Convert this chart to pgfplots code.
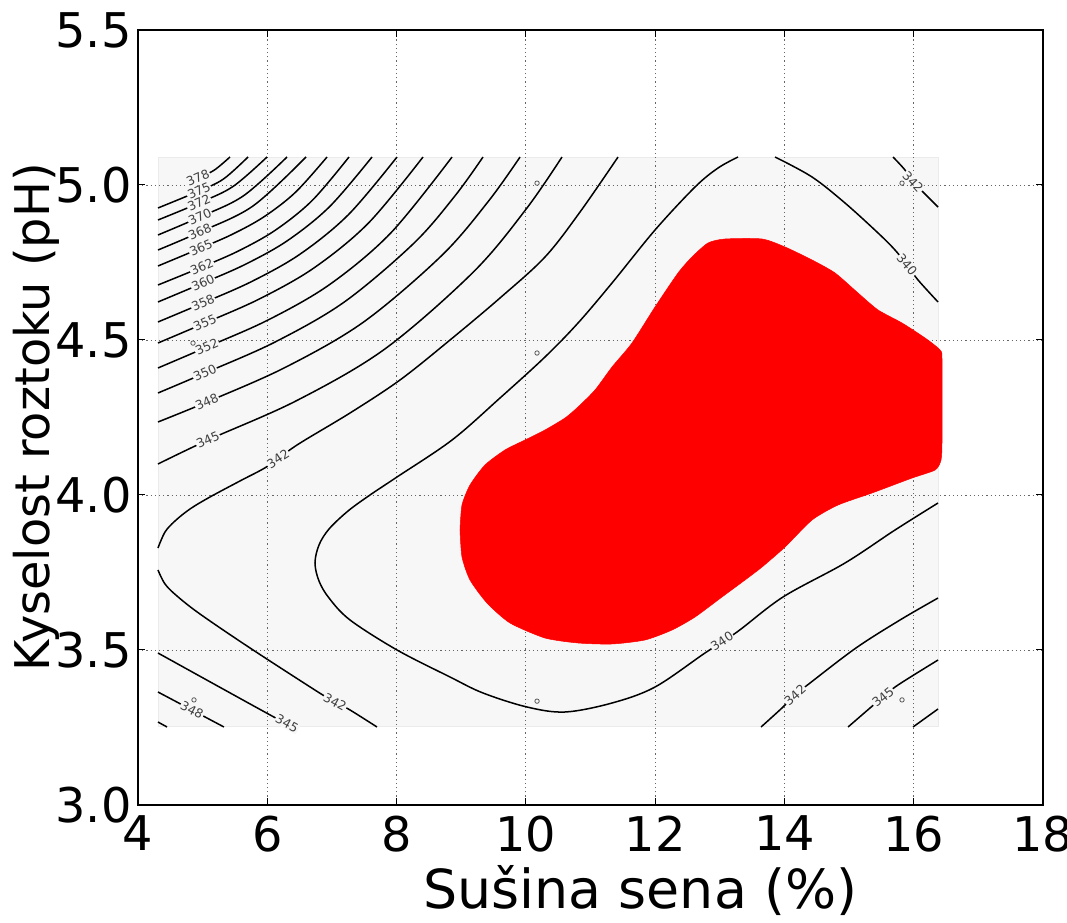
\documentclass[border=0pt]{standalone}
\usepackage{pgfplots}
\pgfplotsset{compat=1.18}
\usepackage{fontspec}
\setmainfont{DejaVu Sans}
\setsansfont{DejaVu Sans}
\definecolor{bg}{RGB}{247,247,247}
\pgfplotsset{cline/.style={black, line width=1.5bp, smooth, tension=0.55, mark=none}}
\tikzset{clab/.style={font=\fontsize{12.5}{12.5}\selectfont, text=black!75, fill=bg, inner sep=0.8bp}}
\begin{document}
\begin{tikzpicture}
\begin{axis}[
  set layers,
  at={(0,0)}, anchor=south west,
  scale only axis, width=905bp, height=775bp,
  xmin=4, xmax=18, ymin=3, ymax=5.5,
  xtick={4,6,...,18}, ytick={3,3.5,...,5.5},
  /pgf/number format/assume math mode=true,
  ticklabel style={font=\fontsize{48}{48}\selectfont, text=black},
  xticklabel style={yshift=-7bp},
  yticklabel style={xshift=-3bp, /pgf/number format/.cd, fixed, fixed zerofill, precision=1},
  tick align=inside, major tick length=7bp,
  tick style={black, line width=1bp},
  grid=major,
  major grid style={black!60, line width=0.8bp, dash pattern=on 1.2bp off 3bp},
  axis line style={black, line width=1.4bp},
  xlabel={Sušina sena (\%)}, ylabel={Kyselost roztoku (pH)},
  x label style={font=\fontsize{54}{54}\selectfont, at={(axis description cs:0.555,0)}, anchor=base, yshift=-103bp},
  y label style={font=\fontsize{48}{48}\selectfont, at={(axis description cs:0,0.5)}, anchor=base, yshift=88bp},
]
% background rectangle of the contour domain
\addplot[on layer=axis background, fill=bg, draw=black!8, line width=0.8bp] coordinates {(4.309,3.252) (16.376,3.252) (16.376,5.090) (4.309,5.090)} -- cycle;

% red region
\addplot[fill=red, draw=red, line width=0.5bp, smooth, tension=0.4] coordinates {
(8.981,3.8871) (9.012,3.9677) (9.136,4.0323) (9.368,4.0968) (9.677,4.1452) (9.987,4.1774)
(10.296,4.2097) (10.606,4.2484) (10.807,4.2839) (11.070,4.3387) (11.333,4.4129) (11.642,4.4903)
(11.998,4.6065) (12.354,4.7161) (12.570,4.7677) (12.818,4.8129) (13.081,4.8258) (13.653,4.8258)
(14.009,4.8000) (14.427,4.7581) (14.783,4.7161) (15.138,4.6516) (15.448,4.5968) (15.819,4.5548)
(16.175,4.5065) (16.407,4.4677) (16.438,4.4355) (16.438,4.1774) (16.422,4.1129) (16.330,4.0806)
(15.974,4.0548) (15.355,4.0065) (14.829,3.9677) (14.427,3.9194) (14.009,3.8323) (13.653,3.7677)
(13.390,3.7258) (13.034,3.6710) (12.617,3.6065) (12.261,3.5645) (11.843,3.5323) (11.333,3.5194)
(10.807,3.5226) (10.296,3.5387) (9.755,3.5871) (9.399,3.6516) (9.136,3.7258) (9.012,3.8000)
(8.981,3.8871)} -- cycle;

% top-left family
\addplot[cline] coordinates {(4.928,5.0226) (5.176,5.0474) (5.423,5.0903)};
\addplot[cline] coordinates {(4.309,4.9258) (4.944,4.9806) (5.323,5.0194) (5.702,5.0903)};
\addplot[cline] coordinates {(4.309,4.8871) (4.944,4.9419) (5.470,4.9952) (5.996,5.0903)};
\addplot[cline] coordinates {(4.309,4.8387) (4.959,4.8968) (5.632,4.9652) (6.305,5.0903)};
\addplot[cline] coordinates {(4.309,4.7903) (4.959,4.8484) (5.779,4.9323) (6.599,5.0903)};
\addplot[cline] coordinates {(4.309,4.7387) (4.975,4.7968) (5.462,4.8413) (5.949,4.8974) (6.436,4.9765) (6.924,5.0903)};
\addplot[cline] coordinates {(4.309,4.6774) (4.990,4.7355) (5.559,4.7877) (6.127,4.8545) (6.696,4.9503) (7.264,5.0903)};
\addplot[cline] coordinates {(4.309,4.6226) (5.006,4.6839) (5.659,4.7439) (6.313,4.8206) (6.966,4.9306) (7.620,5.0903)};
\addplot[cline] coordinates {(4.309,4.5581) (5.006,4.6194) (5.756,4.6884) (6.506,4.7768) (7.256,4.9045) (8.007,5.0903)};
\addplot[cline] coordinates {(4.309,4.4903) (5.036,4.5548) (5.880,4.6326) (6.723,4.7326) (7.566,4.8774) (8.409,5.0903)};
\addplot[cline] coordinates {(4.309,4.4097) (5.067,4.4774) (6.015,4.5648) (6.963,4.6787) (7.910,4.8452) (8.858,5.0903)};
\addplot[cline] coordinates {(4.309,4.3290) (5.036,4.3935) (6.112,4.4926) (7.187,4.6219) (8.262,4.8110) (8.907,4.9658) (9.337,5.0903)};
\addplot[cline] coordinates {(4.309,4.2355) (5.067,4.3000) (6.278,4.4116) (7.488,4.5577) (8.699,4.7726) (9.425,4.9487) (9.910,5.0903)};
\addplot[cline] coordinates {(4.309,4.1000) (5.083,4.1774) (6.452,4.3042) (7.821,4.4713) (9.190,4.7197) (10.012,4.9245) (10.559,5.0903)};
% 342 left C
\addplot[cline] coordinates {(4.309,3.8290) (4.418,3.8806) (4.572,3.9161) (4.804,3.9548) (5.113,3.9935) (5.577,4.0452) (6.011,4.0935) (6.460,4.1613) (7.280,4.2645) (8.053,4.3710) (8.827,4.5000) (9.600,4.6355) (10.296,4.7677) (10.838,4.9129) (11.426,5.0903)};
\addplot[cline] coordinates {(4.309,3.7581) (4.418,3.7129) (4.603,3.6742) (4.959,3.6161) (5.733,3.5065) (6.785,3.3645) (7.048,3.3323) (7.280,3.3065) (7.697,3.2516)};
% 340
\addplot[cline] coordinates {(13.282,5.0903) (12.973,5.0548) (12.617,4.9935) (11.998,4.8548) (11.333,4.6839) (10.807,4.5548) (10.296,4.4452) (9.600,4.3129) (8.858,4.1774) (8.007,4.0581) (7.589,4.0000) (7.249,3.9484) (6.955,3.8903) (6.800,3.8387) (6.738,3.7806) (6.800,3.7226) (6.955,3.6677) (7.280,3.5968) (8.007,3.5000) (8.827,3.4129) (9.337,3.3613) (10.018,3.3161) (10.606,3.3000) (11.333,3.3290) (11.998,3.3806) (12.771,3.4903) (13.267,3.5581) (13.978,3.6710) (14.937,3.7806) (15.711,3.8871) (16.376,3.9742)};
\addplot[cline] coordinates {(13.855,5.0903) (14.427,5.0258) (14.937,4.9419) (15.448,4.8452) (15.711,4.7903) (15.896,4.7419) (16.067,4.6935) (16.376,4.6226)};
\addplot[cline] coordinates {(15.680,5.0903) (15.865,5.0484) (15.989,5.0097) (16.175,4.9710) (16.376,4.9290)};
% bottom right
\addplot[cline] coordinates {(13.638,3.2516) (13.962,3.3129) (14.164,3.3548) (14.396,3.3935) (15.107,3.5065) (15.788,3.5968) (16.376,3.6677)};
\addplot[cline] coordinates {(14.984,3.2516) (15.324,3.3129) (15.525,3.3484) (15.757,3.3871) (16.376,3.4677)};
\addplot[cline] coordinates {(15.989,3.2516) (16.376,3.3097)};
% bottom left
\addplot[cline] coordinates {(4.309,3.4903) (6.073,3.2871) (6.413,3.2516)};
\addplot[cline] coordinates {(4.309,3.3645) (5.330,3.2516)};
\addplot[cline] coordinates {(4.309,3.2677) (4.449,3.2516)};

% design points
\addplot[on layer=axis foreground, only marks, mark=o, mark size=2.2bp, draw=black!65, line width=0.8bp] coordinates {(10.173,5.006) (15.819,5.006) (15.819,3.339) (10.173,3.335) (4.866,3.339) (10.173,4.458) (4.851,4.490)};

% contour labels
\node[clab, rotate=24] at (axis cs:4.928,5.0226) {378};
\node[clab, rotate=24] at (axis cs:4.944,4.9806) {375};
\node[clab, rotate=24] at (axis cs:4.944,4.9419) {372};
\node[clab, rotate=24] at (axis cs:4.959,4.8968) {370};
\node[clab, rotate=24] at (axis cs:4.959,4.8484) {368};
\node[clab, rotate=24] at (axis cs:4.975,4.7968) {365};
\node[clab, rotate=24] at (axis cs:4.990,4.7355) {362};
\node[clab, rotate=24] at (axis cs:5.006,4.6839) {360};
\node[clab, rotate=24] at (axis cs:5.006,4.6194) {358};
\node[clab, rotate=24] at (axis cs:5.036,4.5548) {355};
\node[clab, rotate=24] at (axis cs:5.067,4.4774) {352};
\node[clab, rotate=24] at (axis cs:5.036,4.3935) {350};
\node[clab, rotate=24] at (axis cs:5.067,4.3000) {348};
\node[clab, rotate=24] at (axis cs:5.083,4.1774) {345};
\node[clab, rotate=33] at (axis cs:6.166,4.117) {342};
\node[clab, rotate=-29] at (axis cs:7.048,3.3323) {342};
\node[clab, rotate=-29] at (axis cs:6.305,3.263) {345};
\node[clab, rotate=-28] at (axis cs:4.835,3.306) {348};
\node[clab, rotate=33] at (axis cs:13.034,3.528) {340};
\node[clab, rotate=42] at (axis cs:14.164,3.3548) {342};
\node[clab, rotate=39] at (axis cs:15.525,3.3484) {345};
\node[clab, rotate=-50] at (axis cs:15.896,4.7419) {340};
\node[clab, rotate=-47] at (axis cs:15.989,5.0097) {342};
\end{axis}
\pgfresetboundingbox
\path[use as bounding box] (-138bp,-118bp) rectangle (929bp,805bp);
\end{tikzpicture}
\end{document}
